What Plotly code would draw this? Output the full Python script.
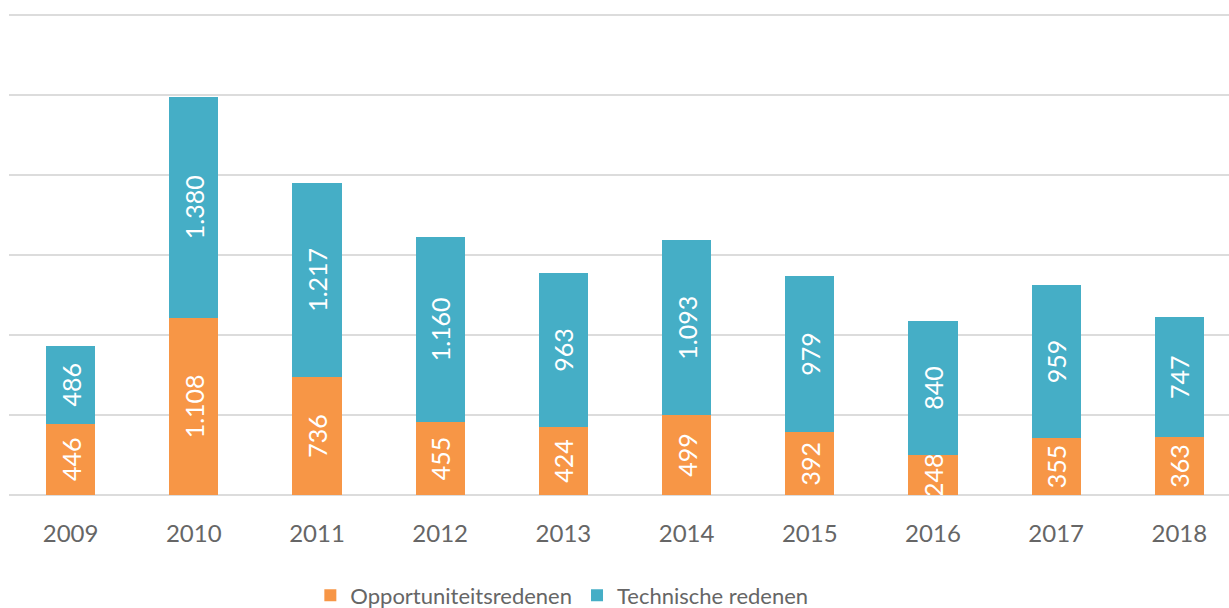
import plotly.graph_objects as go

years = ["2009", "2010", "2011", "2012", "2013", "2014", "2015", "2016", "2017", "2018"]
opportuniteit = [446, 1108, 736, 455, 424, 499, 392, 248, 355, 363]
technisch = [486, 1380, 1217, 1160, 963, 1093, 979, 840, 959, 747]

ORANGE = "#F79646"
TEAL = "#45AEC6"
GREY = "#666666"
FONT = "Lato"


def nl(v):
    # Dutch thousands separator
    return f"{v:,}".replace(",", ".")


fig = go.Figure()
for name, vals, col in [
    ("Opportuniteitsredenen", opportuniteit, ORANGE),
    ("Technische redenen", technisch, TEAL),
]:
    fig.add_trace(go.Bar(
        x=years, y=vals, name=name,
        marker=dict(color=col, line=dict(width=0)),
        text=[nl(v) for v in vals],
        textposition="inside", insidetextanchor="middle",
        textangle=-90,
        textfont=dict(family=FONT, size=25, color="white"),
        width=0.4,
    ))

fig.update_layout(
    barmode="stack",
    width=1229, height=608,
    margin=dict(l=9, r=0, t=12, b=113, autoexpand=False),
    paper_bgcolor="white", plot_bgcolor="white",
    uniformtext=dict(minsize=25, mode="show"),
    font=dict(family=FONT, color=GREY),
    xaxis=dict(
        range=[-0.5, 9.403], showgrid=False, showline=False,
        ticks="", tickfont=dict(size=24, color=GREY),
        ticklabelstandoff=22,
    ),
    yaxis=dict(
        range=[0, 3018.75], tickvals=[500, 1000, 1500, 2000, 2500, 3000],
        showticklabels=False,
        showgrid=True, gridcolor="#DCDCDC", gridwidth=2,
        zeroline=True, zerolinecolor="#DCDCDC", zerolinewidth=2,
    ),
    legend=dict(
        orientation="h", x=0.247, xanchor="left", y=-0.208, yanchor="middle",
        font=dict(size=22, color=GREY),
        traceorder="normal", itemwidth=30,
    ),
    showlegend=True,
)

fig.write_html("out.html")
